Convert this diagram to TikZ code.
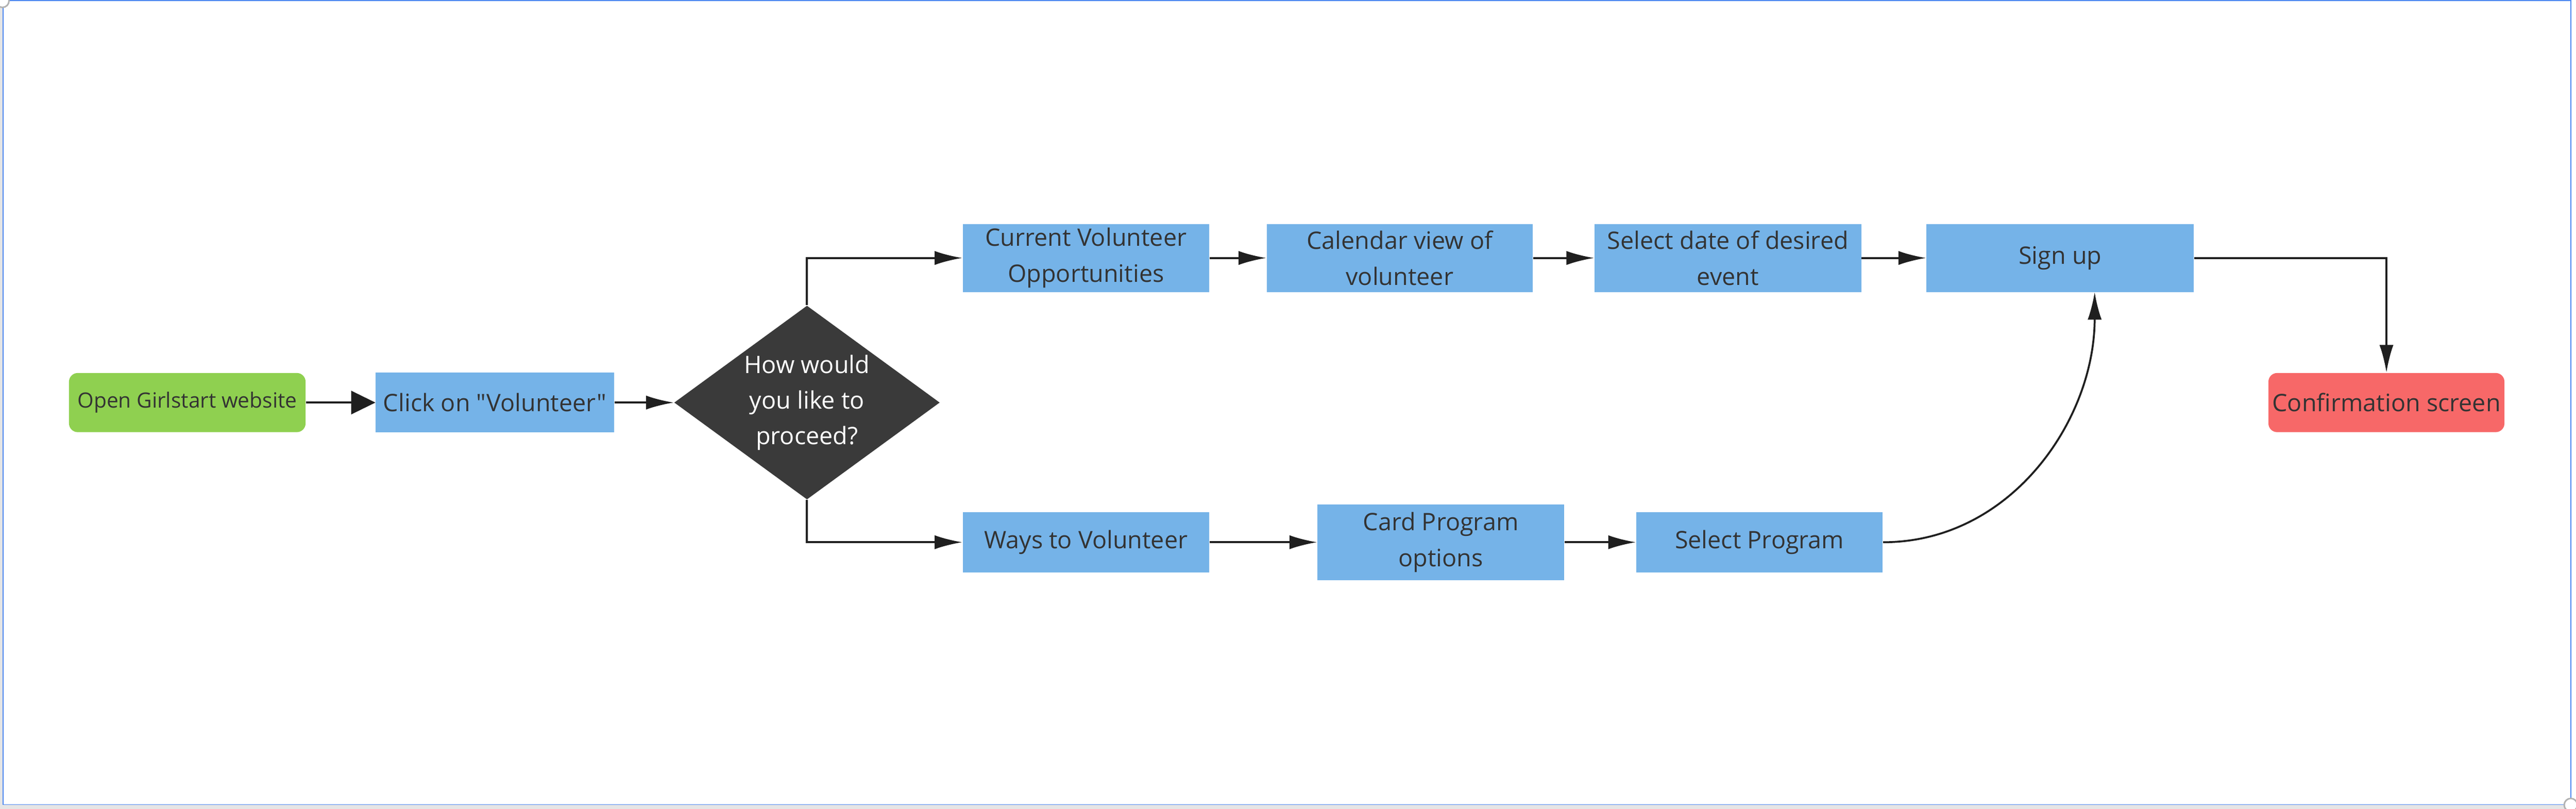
\documentclass[tikz,border=0pt]{standalone}
\usepackage{fontspec}
\setmainfont{Open Sans}[Ligatures=TeXOff]
\usetikzlibrary{shapes.geometric,arrows.meta}

\definecolor{boxblue}{HTML}{75B3E8}
\definecolor{boxgreen}{HTML}{8FD050}
\definecolor{boxred}{HTML}{F76868}
\definecolor{boxdark}{HTML}{3A3A3A}
\definecolor{textdark}{HTML}{333333}
\definecolor{frameblue}{HTML}{4A86F0}

\tikzset{
	stepbox/.style={fill=boxblue, text=textdark, align=center, inner sep=0pt,
		minimum width=4.5cm, minimum height=1.24cm,
		font=\fontsize{12.5}{18.8}\selectfont},
	endbox/.style={rounded corners=0.16cm, text=textdark, align=center,
		inner sep=0pt, minimum width=4.32cm, minimum height=1.08cm},
	askbox/.style={diamond, aspect=1.36, fill=boxdark, text=white,
		align=center, inner sep=0pt, minimum width=4.85cm,
		minimum height=3.54cm, font=\fontsize{12.5}{18.5}\selectfont},
	flow/.style={-{Latex[length=14.4pt,width=7.3pt]}, line width=1pt,
		draw=black!88},
	bigflow/.style={-{Triangle[length=12.6pt,width=12.1pt]}, line width=1pt,
		draw=black!88}
}

\begin{document}
\begin{tikzpicture}[x=0.03cm, y=-0.03cm]
	\useasboundingbox (0, 0) rectangle (1568, 492.3);
	% Rahmen
	\fill[gray!20] (0, 0) rectangle (1.77, 492.3);
	\fill[gray!20] (0, 489.7) rectangle (1568, 492.3);
	\draw[frameblue, line width=0.5pt] (1.77, 0.3) rectangle (1564.8, 489.7);
	\draw[gray!60, fill=white, line width=0.8pt] (1.5, 0.5) circle (4);
	\draw[gray!60, fill=white, line width=0.8pt] (1564.8, 489.9) circle (4);
	% Schritte
	\node[endbox, fill=boxgreen, font=\fontsize{10.9}{15}\selectfont] (start)
	at (114, 245) {Open Girlstart website};
	\node[stepbox, minimum width=4.35cm, minimum height=1.09cm] (click)
	at (301.25, 245) {Click on "Volunteer"};
	\node[askbox] (ask) at (491.2, 245) {How would\\you like to\\proceed?};
	\node[stepbox] (current) at (661, 157)
	{Current Volunteer\\Opportunities};
	\node[stepbox, minimum width=4.86cm] (calendar) at (852, 157)
	{Calendar view of\\volunteer};
	\node[stepbox, minimum width=4.87cm] (date) at (1051.75, 157)
	{Select date of desired\\event};
	\node[stepbox, minimum width=4.88cm] (signup) at (1254, 157) {Sign up};
	\node[endbox, fill=boxred, minimum width=4.31cm,
	font=\fontsize{12.5}{17.5}\selectfont] (confirm) at (1452.6, 245)
	{Confirmation screen};
	\node[stepbox, minimum height=1.1cm] (ways) at (661, 330)
	{Ways to Volunteer};
	\node[stepbox, minimum height=1.38cm] (card) at (877, 330)
	{Card Program\\options};
	\node[stepbox, minimum height=1.1cm] (program) at (1071, 330)
	{Select Program};
	\coordinate (signup-in) at (1275, 177.7);
	% Pfeile
	\draw[bigflow] (start) -- (click);
	\draw[flow] (click) -- (ask);
	\draw[flow] (ask.north) |- (current);
	\draw[flow] (ask.south) |- (ways);
	\draw[flow] (current) -- (calendar);
	\draw[flow] (calendar) -- (date);
	\draw[flow] (date) -- (signup);
	\draw[flow] (signup) -| (confirm);
	\draw[flow] (ways) -- (card);
	\draw[flow] (card) -- (program);
	\draw[flow] (program) to[out=0, in=-90] (signup-in);
\end{tikzpicture}
\end{document}
